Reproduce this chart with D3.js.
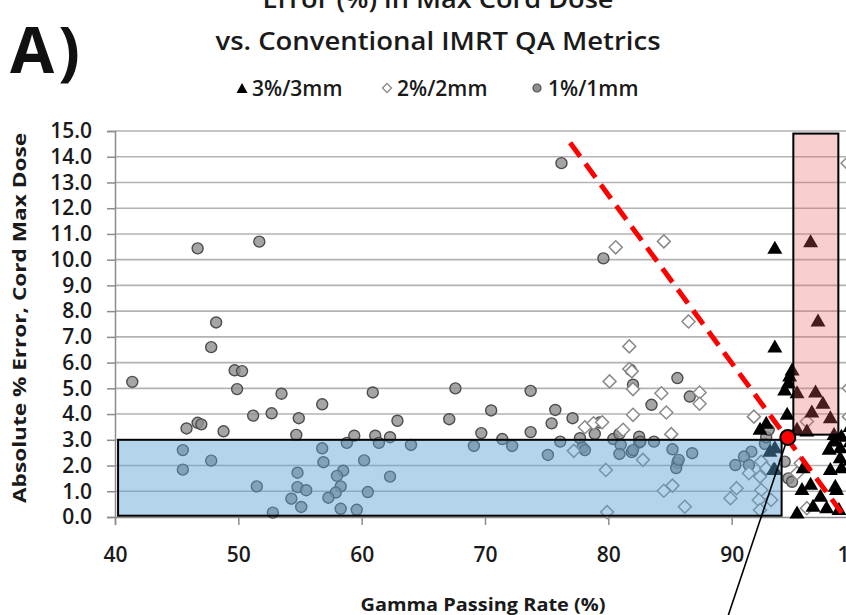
<!DOCTYPE html>
<html>
<head>
<meta charset="utf-8">
<script src="https://cdn.jsdelivr.net/npm/d3@7"></script>
<style>
  body { margin: 0; background: #fff; }
  svg { display: block; font-family: "Open Sans", "DejaVu Sans", sans-serif; }
</style>
</head>
<body>
<div id="chart"></div>
<script>
// gamma passing rate (%) vs absolute % error in cord max dose, one array per criterion
const pts3mm = [
  [93.5, 10.42], [96.4, 10.68], [97.0, 7.6], [93.5, 6.59], [94.9, 5.69], [94.7, 5.46],
  [94.6, 5.2], [94.3, 4.92], [95.3, 4.81], [96.8, 4.84], [97.4, 4.4], [96.5, 4.06],
  [98.0, 3.84], [94.5, 3.97], [92.3, 3.39], [92.8, 3.62], [95.3, 3.39], [96.1, 3.32],
  [98.3, 3.19], [98.9, 3.12], [98.3, 2.93], [97.9, 2.61], [98.8, 2.67], [98.8, 2.28],
  [93.5, 2.67], [93.5, 1.83], [95.8, 1.89], [98.0, 1.83], [98.9, 1.89], [95.7, 1.05],
  [96.4, 1.25], [97.2, 0.79], [98.4, 1.18], [95.3, 0.14], [96.6, 0.4], [97.7, 0.34],
  [98.7, 0.27], [98.5, 1.05], [93.1, 2.54], [93.4, 1.83], [99.6, 3.5], [99.6, 2.9],
  [99.6, 2.2]
];
const pts2mm = [
  [80.6, 10.48], [84.5, 10.71], [81.7, 6.63], [81.7, 5.75], [81.9, 5.66], [80.1, 5.27],
  [82.0, 4.97], [84.3, 4.81], [84.7, 4.06], [82.0, 3.97], [78.1, 3.49], [78.8, 3.64],
  [79.5, 3.68], [81.2, 3.39], [85.1, 3.22], [77.2, 2.57], [82.8, 2.22], [79.8, 1.83],
  [84.5, 1.02], [85.2, 1.22], [79.9, 0.19], [86.5, 7.6], [87.4, 4.84], [87.4, 4.4],
  [91.8, 3.9], [96.1, 3.71], [86.2, 0.4], [92.4, 2.15], [92.8, 1.89], [91.4, 1.7],
  [92.3, 1.57], [90.4, 1.12], [92.4, 1.05], [89.9, 0.73], [92.2, 0.66], [92.3, 0.27],
  [93.2, 0.66], [95.6, 2.09], [95.3, 1.7], [96.1, 0.34], [99.4, 13.75], [99.5, 5.0],
  [99.5, 3.9]
];
const pts1mm = [
  [46.7, 10.44], [51.7, 10.7], [48.2, 7.56], [47.8, 6.6], [49.7, 5.7], [50.3, 5.67],
  [41.4, 5.25], [49.9, 4.97], [53.5, 4.79], [60.9, 4.84], [56.8, 4.38], [51.2, 3.94],
  [52.7, 4.03], [54.9, 3.84], [62.9, 3.74], [45.8, 3.44], [46.7, 3.66], [47.0, 3.6],
  [48.8, 3.33], [54.7, 3.19], [59.4, 3.16], [61.1, 3.16], [62.3, 3.1], [58.8, 2.88],
  [61.4, 2.88], [45.5, 2.6], [56.8, 2.67], [45.5, 1.84], [47.8, 2.19], [56.9, 2.13],
  [60.2, 2.2], [54.8, 1.72], [58.5, 1.8], [58.0, 1.6], [62.3, 1.57], [51.5, 1.19],
  [54.8, 1.16], [55.5, 1.04], [58.3, 1.19], [57.9, 0.95], [54.3, 0.71], [57.3, 0.75],
  [60.5, 0.97], [55.1, 0.39], [58.3, 0.32], [59.6, 0.28], [52.8, 0.17],
  [76.2, 13.75], [79.6, 10.05], [67.6, 5.0], [73.7, 4.9], [67.1, 3.8], [70.5, 4.14],
  [75.7, 4.16], [75.4, 3.64], [77.1, 3.84], [69.7, 3.26], [73.7, 3.3], [71.4, 3.03],
  [64.0, 2.8], [69.1, 2.76], [72.2, 2.76], [75.1, 2.41], [76.1, 2.93], [77.7, 3.06],
  [77.9, 2.7], [78.1, 2.6], [78.9, 3.23], [79.3, 3.67], [80.4, 3.03], [80.9, 3.23],
  [81.0, 2.8], [80.9, 2.45], [81.9, 2.52], [82.0, 5.14], [82.5, 3.12], [82.5, 2.89],
  [83.5, 4.36], [83.7, 2.93], [85.6, 5.4], [85.2, 2.63], [85.6, 2.11], [85.5, 1.9],
  [86.6, 4.68], [82.0, 2.6], [82.6, 2.93], [85.7, 2.22], [86.8, 2.48], [81.8, 5.72],
  [92.7, 2.84], [91.6, 2.54], [91.0, 2.35], [91.4, 2.02], [90.3, 2.02], [94.6, 1.5],
  [94.3, 2.15], [92.8, 3.1], [94.9, 1.37], [93.0, 3.39]
];

const xTicks = [40, 50, 60, 70, 80, 90, 100];
const yTicks = d3.range(0, 16);

const legendItems = ["3%/3mm", "2%/2mm", "1%/1mm"];

// highlighted regions [x0, x1, y0, y1]
const lowRegion = [40.25, 94.05, 0.05, 3.0];
const highRegion = [95.0, 98.65, 3.2, 14.9];
// dashed trend line and marked point
const trendLine = [[76.9, 14.54], [99.05, 0.08]];
const markPoint = [94.55, 3.09];
const pointerEnd = [89.6, -4.0];

(function () {
  const W = 846, H = 615;
  const svg = d3.select("#chart").append("svg").attr("width", W).attr("height", H);

  const x = d3.scaleLinear().domain([40, 100]).range([115, 855]);
  const y = d3.scaleLinear().domain([0, 15]).range([517, 131]);

  // panel letter + title
  svg.append("text")
    .attr("x", 10).attr("y", 73)
    .attr("font-size", "64px").attr("font-weight", "bold")
    .attr("letter-spacing", "4px")
    .attr("fill", "#111")
    .text("A)");

  svg.append("text")
    .attr("x", 438).attr("y", 8)
    .attr("text-anchor", "middle")
    .attr("font-size", "26px").attr("font-weight", "600").attr("fill", "#1a1a1a")
    .attr("textLength", 351).attr("lengthAdjust", "spacingAndGlyphs")
    .text("Error (%) in Max Cord Dose");

  svg.append("text")
    .attr("x", 438).attr("y", 50)
    .attr("text-anchor", "middle")
    .attr("font-size", "26px").attr("font-weight", "600").attr("fill", "#1a1a1a")
    .attr("textLength", 445).attr("lengthAdjust", "spacingAndGlyphs")
    .text("vs. Conventional IMRT QA Metrics");

  // gridlines
  svg.append("g")
    .selectAll("line")
    .data(yTicks.filter((d) => d > 0))
    .join("line")
    .attr("x1", x(40)).attr("x2", W)
    .attr("y1", (d) => y(d)).attr("y2", (d) => y(d))
    .attr("stroke", "#b3b3b3").attr("stroke-width", 1.6);

  // axes
  const yAxis = svg.append("g")
    .attr("transform", `translate(${x(40)},0)`)
    .call(d3.axisLeft(y).tickValues(yTicks).tickFormat(d3.format(".1f")).tickSize(8).tickPadding(15));
  yAxis.select(".domain").attr("stroke", "#8c8c8c").attr("stroke-width", 1.5);
  yAxis.selectAll(".tick line").attr("stroke", "#8c8c8c").attr("stroke-width", 1.5);
  yAxis.selectAll(".tick text")
    .attr("font-size", "21px").attr("font-weight", "600").attr("fill", "#1a1a1a")
    .attr("font-family", "Open Sans, sans-serif");

  const xAxis = svg.append("g")
    .attr("transform", `translate(0,${y(0)})`)
    .call(d3.axisBottom(x).tickValues(xTicks).tickFormat(d3.format("d")).tickSize(8).tickPadding(22));
  xAxis.select(".domain").attr("stroke", "#8c8c8c").attr("stroke-width", 1.5);
  xAxis.selectAll(".tick line").attr("stroke", "#8c8c8c").attr("stroke-width", 1.5);
  xAxis.selectAll(".tick text")
    .attr("font-size", "21px").attr("font-weight", "600").attr("fill", "#1a1a1a")
    .attr("font-family", "Open Sans, sans-serif");

  svg.append("text")
    .attr("transform", `translate(26,318) rotate(-90)`)
    .attr("text-anchor", "middle")
    .attr("font-size", "18px").attr("font-weight", "bold").attr("fill", "#1a1a1a")
    .attr("textLength", 370).attr("lengthAdjust", "spacingAndGlyphs")
    .text("Absolute % Error, Cord Max Dose");

  svg.append("text")
    .attr("x", 483).attr("y", 611)
    .attr("text-anchor", "middle")
    .attr("font-size", "17px").attr("font-weight", "bold").attr("fill", "#1a1a1a")
    .attr("textLength", 245).attr("lengthAdjust", "spacingAndGlyphs")
    .text("Gamma Passing Rate (%)");

  // markers
  const triPath = "M0,-8L7.5,5L-7.5,5Z";
  const diaPath = "M0,-6.5L6.5,0L0,6.5L-6.5,0Z";

  svg.append("g")
    .selectAll("circle")
    .data(pts1mm)
    .join("circle")
    .attr("cx", (d) => x(d[0])).attr("cy", (d) => y(d[1]))
    .attr("r", 5.5)
    .attr("fill", "#8e8e8e").attr("fill-opacity", 0.8)
    .attr("stroke", "#4d4d4d").attr("stroke-width", 1.4);

  svg.append("g")
    .selectAll("path")
    .data(pts2mm)
    .join("path")
    .attr("transform", (d) => `translate(${x(d[0])},${y(d[1])})`)
    .attr("d", diaPath)
    .attr("fill", "#fff")
    .attr("stroke", "#8a8a8a").attr("stroke-width", 1.5);

  svg.append("g")
    .selectAll("path")
    .data(pts3mm)
    .join("path")
    .attr("transform", (d) => `translate(${x(d[0])},${y(d[1])})`)
    .attr("d", triPath)
    .attr("fill", "#000");

  // shaded regions drawn over the points
  svg.append("rect")
    .attr("x", x(lowRegion[0])).attr("y", y(lowRegion[3]))
    .attr("width", x(lowRegion[1]) - x(lowRegion[0]))
    .attr("height", y(lowRegion[2]) - y(lowRegion[3]))
    .attr("fill", "rgba(89,160,213,0.45)")
    .attr("stroke", "#000").attr("stroke-width", 2);

  svg.append("rect")
    .attr("x", x(highRegion[0])).attr("y", y(highRegion[3]))
    .attr("width", x(highRegion[1]) - x(highRegion[0]))
    .attr("height", y(highRegion[2]) - y(highRegion[3]))
    .attr("fill", "rgba(232,95,95,0.3)")
    .attr("stroke", "#000").attr("stroke-width", 2);

  const line = d3.line().x((d) => x(d[0])).y((d) => y(d[1]));

  svg.append("path")
    .attr("d", line(trendLine))
    .attr("fill", "none")
    .attr("stroke", "#f00").attr("stroke-width", 5)
    .attr("stroke-dasharray", "17,9");

  svg.append("path")
    .attr("d", line([markPoint, pointerEnd]))
    .attr("stroke", "#000").attr("stroke-width", 1.6);

  svg.append("circle")
    .attr("cx", x(markPoint[0])).attr("cy", y(markPoint[1]))
    .attr("r", 7.5)
    .attr("fill", "#f00")
    .attr("stroke", "#000").attr("stroke-width", 2);

  // legend
  const legendPos = [{ m: 242, t: 252 }, { m: 387, t: 397 }, { m: 537, t: 548 }];
  const lg = svg.append("g").attr("font-size", "21px").attr("fill", "#1a1a1a");
  legendItems.forEach((label, i) => {
    const p = legendPos[i];
    if (i === 0) {
      lg.append("path").attr("transform", `translate(${p.m},89)`)
        .attr("d", "M0,-6L5.5,4L-5.5,4Z").attr("fill", "#000");
    } else if (i === 1) {
      lg.append("path").attr("transform", `translate(${p.m},88)`)
        .attr("d", "M0,-4.5L4.5,0L0,4.5L-4.5,0Z")
        .attr("fill", "#fff").attr("stroke", "#8a8a8a").attr("stroke-width", 1.3);
    } else {
      lg.append("circle").attr("cx", p.m).attr("cy", 88).attr("r", 4)
        .attr("fill", "#8e8e8e").attr("stroke", "#4d4d4d").attr("stroke-width", 1.2);
    }
    lg.append("text")
      .attr("x", p.t).attr("y", 96)
      .attr("font-weight", "600")
      .text(label);
  });
})();
</script>
</body>
</html>
